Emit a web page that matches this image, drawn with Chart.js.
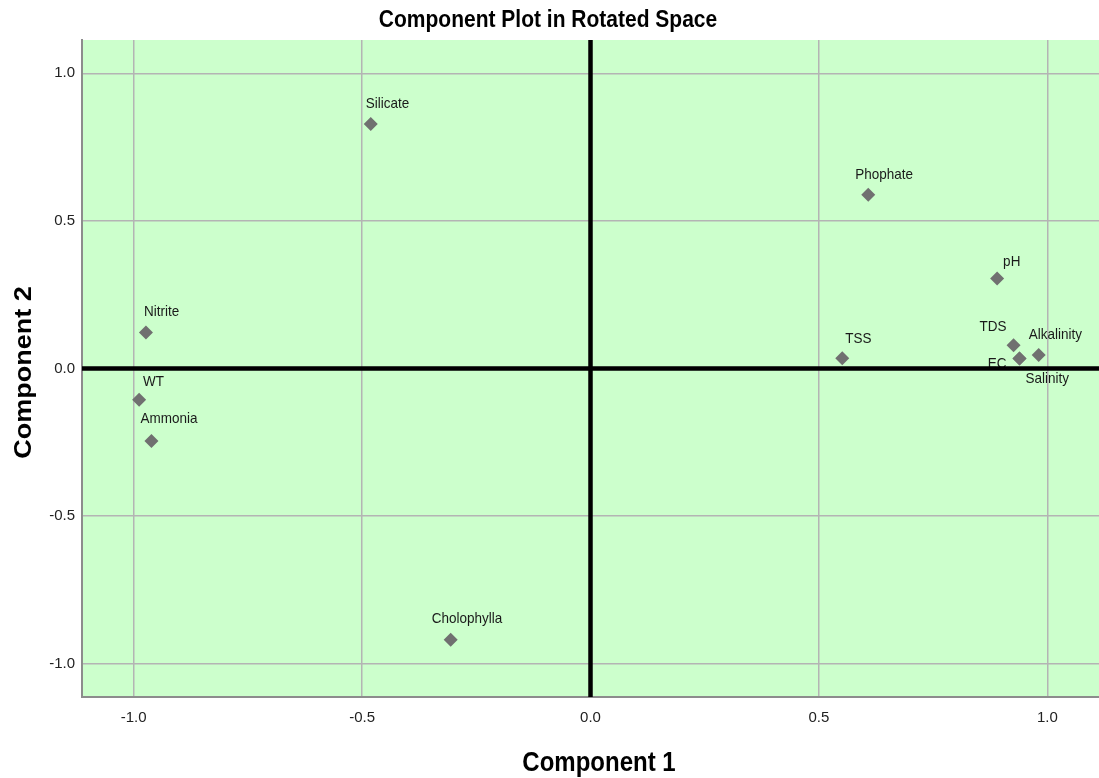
<!DOCTYPE html>
<html>
<head>
<meta charset="utf-8">
<title>Component Plot in Rotated Space</title>
<script src="https://cdn.jsdelivr.net/npm/chart.js@4/dist/chart.umd.min.js"></script>
<style>
    body { margin: 0; background: #ffffff; }
    #wrap { width: 1099px; height: 778px; }
</style>
</head>
<body>
<div id="wrap"><canvas id="myChart" width="1099" height="778"></canvas></div>
<script>
const variables = [
    'Silicate', 'Phophate', 'pH', 'TSS', 'TDS', 'Alkalinity', 'EC', 'Salinity',
    'Nitrite', 'WT', 'Ammonia', 'Cholophylla'
];
const component1 = [-0.481, 0.608, 0.890, 0.551, 0.926, 0.981, 0.939, 0.939, -0.973, -0.988, -0.961, -0.306];
const component2 = [0.828, 0.589, 0.305, 0.035, 0.079, 0.046, 0.034, 0.034, 0.122, -0.106, -0.246, -0.919];
const tickValues = [-1.0, -0.5, 0.0, 0.5, 1.0];

// where each name sits relative to its marker: dx, dy, text alignment
const labelPlace = {
    'Silicate': [-5, -20, 'left'],
    'Phophate': [-13, -20, 'left'],
    'pH': [6, -17, 'left'],
    'TSS': [3, -19, 'left'],
    'TDS': [-7, -18, 'right'],
    'Alkalinity': [-10, -20, 'left'],
    'EC': [-13, 5, 'right'],
    'Salinity': [6, 20, 'left'],
    'Nitrite': [-2, -21, 'left'],
    'WT': [4, -18, 'left'],
    'Ammonia': [-11, -22, 'left'],
    'Cholophylla': [-19, -21, 'left']
};

const points = variables.map((v, i) => ({ x: component1[i], y: component2[i] }));

const font = 'Liberation Sans, Arial, sans-serif';
const tall = 1.15;   // glyphs are drawn a bit taller than wide

function tallText(ctx, text, x, y, size, weight, align) {
    ctx.save();
    ctx.translate(x, y);
    ctx.scale(1, tall);
    ctx.font = weight + ' ' + size + 'px ' + font;
    ctx.textAlign = align;
    ctx.textBaseline = 'middle';
    ctx.fillText(text, 0, 0);
    ctx.restore();
}

const plotBack = {
    id: 'plotBack',
    beforeDraw(chart) {
        const a = chart.chartArea;
        const ctx = chart.ctx;
        ctx.save();
        ctx.fillStyle = '#ccffcc';
        ctx.fillRect(a.left, a.top, a.right - a.left, a.bottom - a.top);
        ctx.restore();
    }
};

const overlay = {
    id: 'overlay',
    afterDatasetsDraw(chart) {
        const ctx = chart.ctx;
        const a = chart.chartArea;
        const xs = chart.scales.x, ys = chart.scales.y;
        const meta = chart.getDatasetMeta(0);

        // names next to the markers
        ctx.save();
        ctx.fillStyle = '#1a1a1a';
        meta.data.forEach((pt, i) => {
            const p = labelPlace[variables[i]];
            tallText(ctx, variables[i], pt.x + p[0], pt.y + p[1], 13.5, 'normal', p[2]);
        });
        ctx.restore();

        // heavy zero lines
        ctx.save();
        ctx.strokeStyle = '#000000';
        ctx.lineWidth = 4.5;
        const x0 = xs.getPixelForValue(0);
        const y0 = ys.getPixelForValue(0);
        ctx.beginPath();
        ctx.moveTo(a.left, y0);
        ctx.lineTo(a.right, y0);
        ctx.moveTo(x0, a.top);
        ctx.lineTo(x0, a.bottom);
        ctx.stroke();
        ctx.restore();
    },
    afterDraw(chart) {
        const ctx = chart.ctx;
        const a = chart.chartArea;
        ctx.save();
        ctx.fillStyle = '#000000';
        tallText(ctx, 'Component Plot in Rotated Space', 548, 20, 21, 'bold', 'center');
        tallText(ctx, 'Component 1', 599, 763, 24, 'bold', 'center');

        ctx.translate(25, (a.top + a.bottom) / 2 + 4);
        ctx.rotate(-Math.PI / 2);
        ctx.scale(1, 1 / tall);
        ctx.font = 'bold 27px ' + font;
        ctx.textAlign = 'center';
        ctx.textBaseline = 'middle';
        ctx.fillText('Component 2', 0, 0);
        ctx.restore();
    }
};

const data = {
    datasets: [{
        label: 'Loadings',
        data: points,
        pointStyle: 'rectRot',
        pointRadius: 7,
        pointHoverRadius: 7,
        backgroundColor: '#707070',
        borderColor: '#707070',
        borderWidth: 0,
        showLine: false
    }]
};

const gridStyle = {
    color: '#b4b4b4',
    lineWidth: 1.5,
    drawTicks: false
};

const options = {
    responsive: false,
    animation: false,
    layout: {
        autoPadding: false,
        padding: { top: 40, right: 0, bottom: 0, left: 0 }
    },
    plugins: {
        legend: { display: false },
        tooltip: { enabled: false },
        title: { display: false }
    },
    scales: {
        x: {
            type: 'linear',
            min: -1.113,
            max: 1.113,
            grid: gridStyle,
            border: { color: '#8c8c8c', width: 2 },
            ticks: {
                color: '#222222',
                font: { family: font, size: 15 },
                padding: 12,
                maxRotation: 0,
                callback: v => v.toFixed(1)
            },
            afterBuildTicks: s => { s.ticks = tickValues.map(v => ({ value: v })); },
            afterFit: s => { s.height = 81; s.paddingLeft = 0; s.paddingRight = 0; }
        },
        y: {
            type: 'linear',
            min: -1.113,
            max: 1.113,
            grid: gridStyle,
            border: { color: '#8c8c8c', width: 2 },
            ticks: {
                color: '#222222',
                font: { family: font, size: 15 },
                padding: 7,
                callback: v => v.toFixed(1)
            },
            afterBuildTicks: s => { s.ticks = tickValues.map(v => ({ value: v })); },
            afterFit: s => { s.width = 82; s.paddingTop = 0; s.paddingBottom = 0; }
        }
    }
};

const config = {
    type: 'scatter',
    data,
    options,
    plugins: [plotBack, overlay]
};

var myChart = new Chart(
    document.getElementById('myChart'),
    config
);
</script>
</body>
</html>
